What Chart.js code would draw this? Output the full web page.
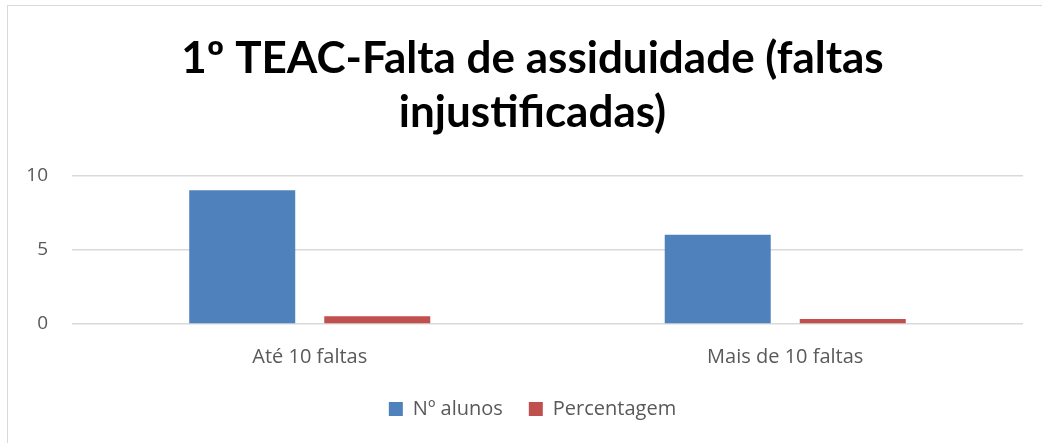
<!DOCTYPE html>
<html>
<head>
<meta charset="utf-8">
<script src="https://cdn.jsdelivr.net/npm/chart.js@4"></script>
<style>
  html, body { margin: 0; padding: 0; background: #fff; }
  #wrap { position: relative; width: 1042px; height: 443px; overflow: hidden; }
  #frame { position: absolute; left: 7px; top: 5px; width: 1100px; height: 500px; border-left: 1.5px solid #d9d9d9; border-top: 1.5px solid #d9d9d9; box-sizing: border-box; }
  canvas { position: absolute; left: 0; top: 0; }
</style>
</head>
<body>
<div id="wrap">
  <div id="frame"></div>
  <canvas id="c" width="1042" height="443"></canvas>
</div>
<script>
const titleLines = ['1º TEAC-Falta de assiduidade (faltas', 'injustificadas)'];
const categories = ['Até 10 faltas', 'Mais de 10 faltas'];
const seriesNames = ['Nº alunos', 'Percentagem'];
const alunos = [9, 6];
const percentagem = [0.52, 0.34];
const yTicks = [0, 5, 10];

const grey = '#595959';
const centerShift = 17;
const shiftBlocks = {
  id: 'shiftBlocks',
  afterLayout(chart) {
    [chart.titleBlock, chart.legend].forEach(b => {
      if (b) { b.left += centerShift; b.right += centerShift; }
    });
  }
};
const ctx = document.getElementById('c').getContext('2d');
new Chart(ctx, {
  type: 'bar',
  data: {
    labels: categories,
    datasets: [
      { label: seriesNames[0], data: alunos, backgroundColor: '#4f81bd', categoryPercentage: 0.568, barPercentage: 0.785 },
      { label: seriesNames[1], data: percentagem, backgroundColor: '#c0504d', categoryPercentage: 0.568, barPercentage: 0.785 }
    ]
  },
  plugins: [shiftBlocks],
  options: {
    responsive: false,
    animation: false,
    layout: { padding: { left: 8, right: 19, top: 0, bottom: 14 } },
    plugins: {
      tooltip: { enabled: false },
      title: {
        display: true,
        text: titleLines,
        color: '#000',
        font: { family: 'Lato', weight: 'bold', size: 44, lineHeight: 1.22 },
        padding: { top: 32, bottom: 36 }
      },
      legend: {
        position: 'bottom',
        labels: {
          boxWidth: 14, boxHeight: 14, padding: 26,
          color: grey,
          font: { family: 'Open Sans', size: 20 }
        }
      }
    },
    scales: {
      x: {
        grid: { display: false, drawTicks: false },
        border: { display: false },
        ticks: { color: grey, font: { family: 'Open Sans', size: 20 }, padding: 21 },
        afterFit: s => { s.height = 49; }
      },
      y: {
        min: 0, max: 10,
        afterBuildTicks: s => { s.ticks = yTicks.map(v => ({ value: v })); },
        grid: { color: '#d9d9d9', lineWidth: 1.5, drawTicks: false },
        border: { display: false },
        ticks: { color: grey, font: { family: 'Open Sans', size: 19 }, padding: 24 },
        afterFit: s => { s.width = 64; }
      }
    }
  }
});
</script>
</body>
</html>
